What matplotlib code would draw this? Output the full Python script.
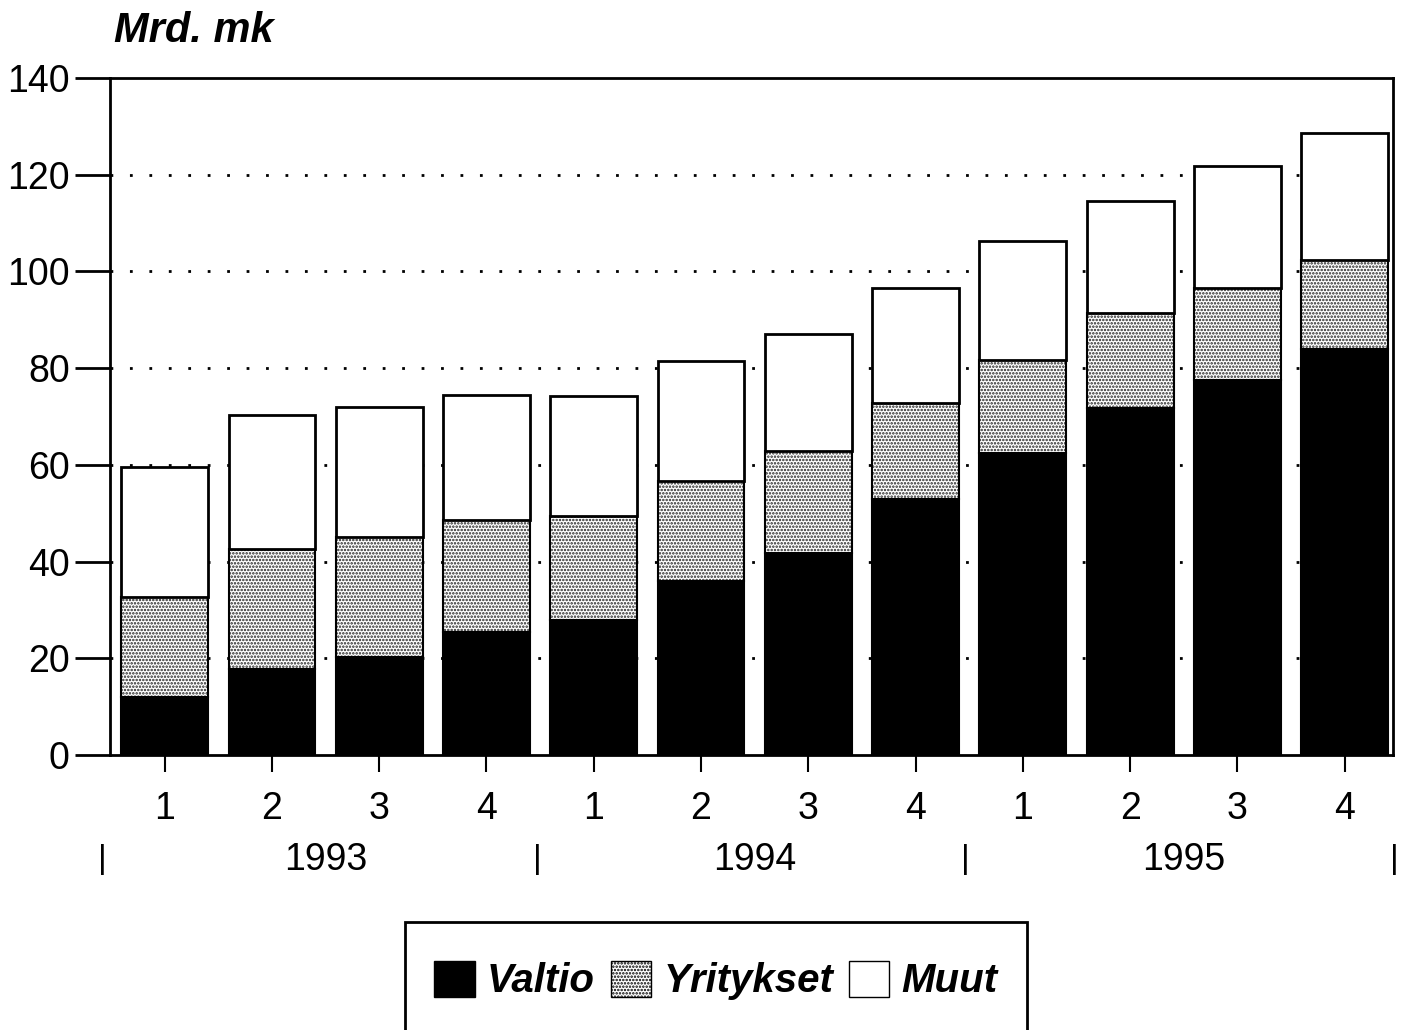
import numpy as np
import matplotlib
matplotlib.use("Agg")
import matplotlib.pyplot as plt
from matplotlib.patches import Rectangle, Patch
from matplotlib.transforms import blended_transform_factory

plt.rcParams['font.family'] = ['Liberation Sans', 'DejaVu Sans']
plt.rcParams['hatch.linewidth'] = 1.2

# quarterly values, Mrd. mk
quarters = ['1', '2', '3', '4', '1', '2', '3', '4', '1', '2', '3', '4']
years = ['1993', '1994', '1995']
valtio = [12.0, 17.8, 20.3, 25.4, 27.9, 36.0, 41.8, 52.9, 62.4, 71.8, 77.5, 84.0]
yritykset = [20.7, 24.8, 24.8, 23.2, 21.5, 20.7, 21.1, 19.9, 19.3, 19.6, 19.1, 18.4]
muut = [26.9, 27.7, 26.9, 25.8, 24.8, 24.8, 24.2, 23.8, 24.6, 23.2, 25.2, 26.2]

fig = plt.figure(figsize=(14.08, 10.30), dpi=100)
ax = fig.add_axes([0.0781, 0.267, 0.9112, 0.6573])

x = np.arange(len(quarters))
w = 0.81
bottom2 = np.array(valtio)
bottom3 = bottom2 + np.array(yritykset)

ax.bar(x, valtio, w, color='black', edgecolor='black', linewidth=1.5, zorder=3)
ax.bar(x, yritykset, w, bottom=bottom2, color='white', edgecolor='#222222',
       hatch='.....', linewidth=0, zorder=3)
ax.bar(x, yritykset, w, bottom=bottom2, fill=False, edgecolor='black',
       linewidth=1.5, zorder=3)
ax.bar(x, muut, w, bottom=bottom3, color='white', edgecolor='black',
       linewidth=2, zorder=3)

ax.set_xlim(-0.51, 11.45)
ax.set_ylim(0, 140)
ax.set_yticks(range(0, 141, 20))
for yv in range(20, 140, 20):
    ax.axhline(yv, color='black', linestyle=(0, (1, 6)), linewidth=2, zorder=1)

for s in ax.spines.values():
    s.set_linewidth(2)
ax.tick_params(axis='y', direction='out', length=25, width=2, labelsize=27, pad=4)
ax.set_xticks(x)
ax.set_xticklabels(quarters)
ax.tick_params(axis='x', direction='out', length=12, width=1.5, labelsize=27, pad=14)

trans = blended_transform_factory(ax.transData, ax.transAxes)
for i, yr in enumerate(years):
    ax.text(1.5 + 4 * i, -0.155, yr, transform=trans, ha='center', va='center',
            fontsize=27)
for sx in [-0.58, 3.47, 7.46, 11.46]:
    ax.text(sx, -0.155, '|', transform=trans, ha='center', va='center',
            fontsize=24)

fig.text(0.081, 0.970, 'Mrd. mk', fontsize=30, fontweight='bold',
         fontstyle='italic', ha='left', va='center')

# legend box
fig.patches.append(Rectangle((405 / 1408, -0.01), 622 / 1408, 0.115,
                             transform=fig.transFigure, fill=False,
                             edgecolor='black', linewidth=2))
handles = [Patch(facecolor='black', edgecolor='black'),
           Patch(facecolor='white', edgecolor='black', hatch='.....'),
           Patch(facecolor='white', edgecolor='black')]
leg = fig.legend(handles, ['Valtio', 'Yritykset', 'Muut'], loc='center',
                 bbox_to_anchor=(0.5085, 0.048), ncol=3, frameon=False,
                 handlelength=1.0, handleheight=1.0, handletextpad=0.3,
                 columnspacing=0.4,
                 prop={'size': 29, 'weight': 'bold', 'style': 'italic'})

fig.savefig('out.png', dpi=100)
